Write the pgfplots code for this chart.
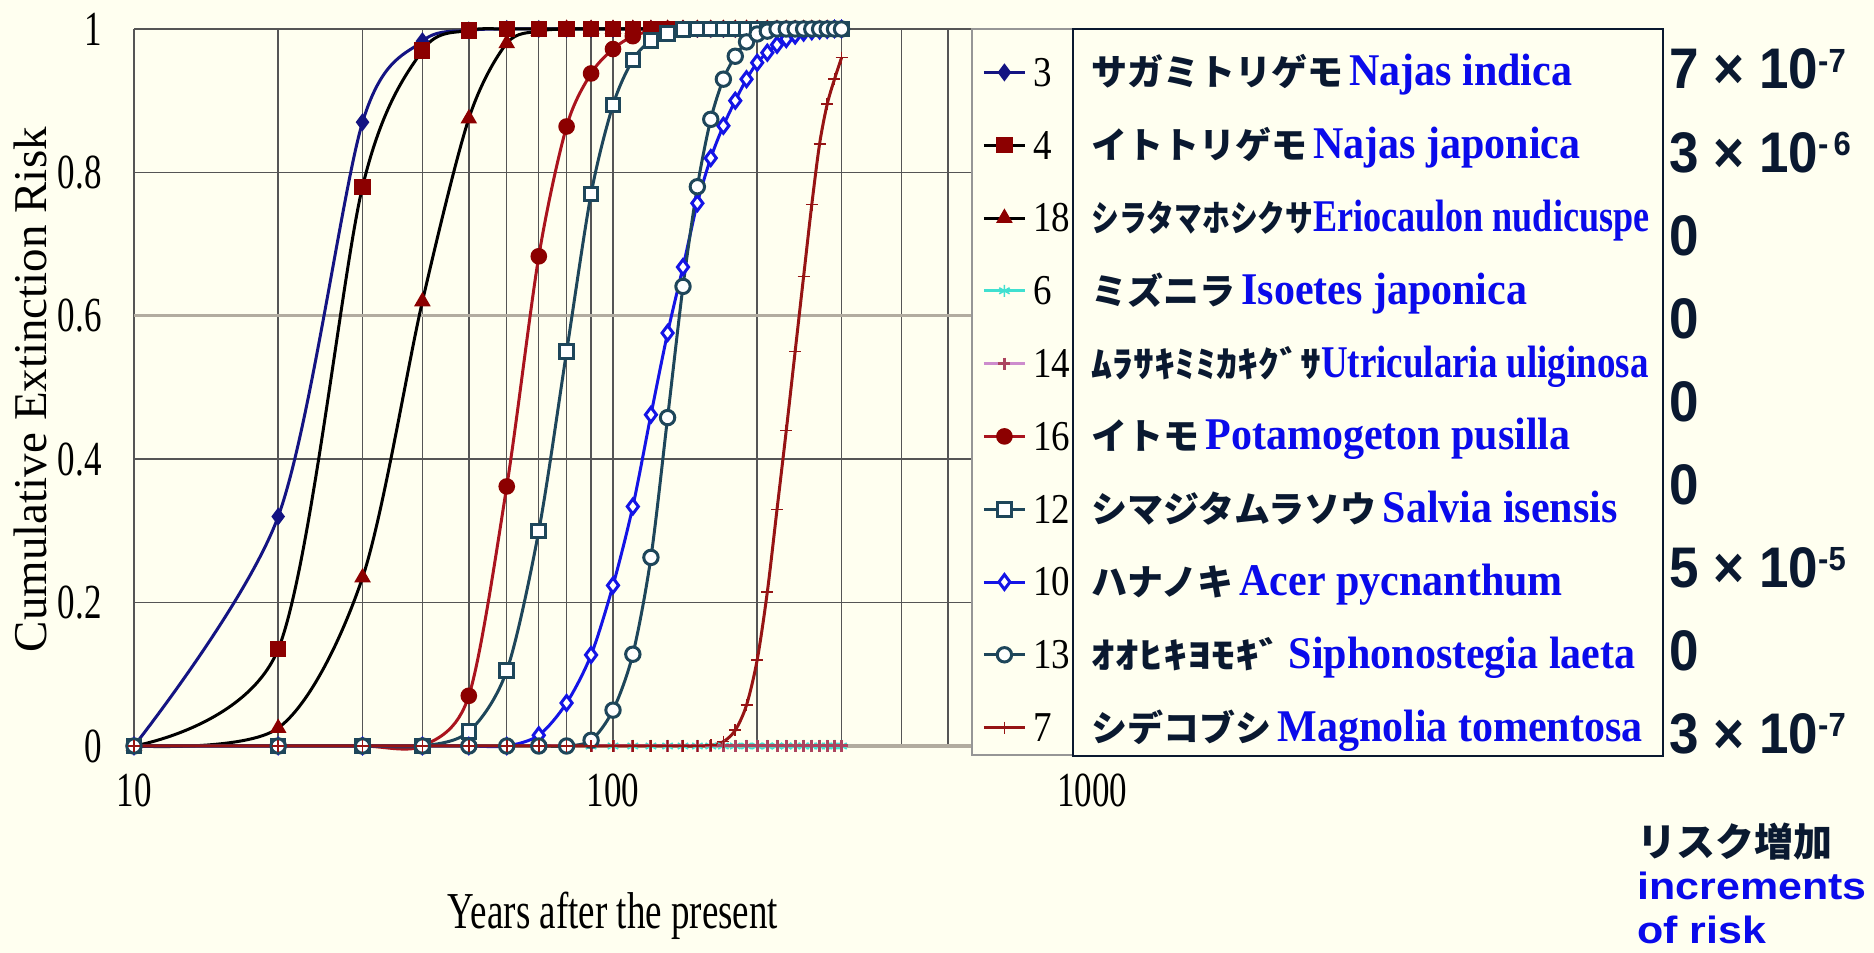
\documentclass[border=0pt]{standalone}
\usepackage{fontspec}
\setmainfont{Liberation Serif}
\newfontfamily\arial{Liberation Sans}
\newfontfamily\jp{Noto Sans CJK JP}
\usepackage{graphicx}
\usepackage{pgfplots}
\usepackage{pgfplotstable}
\pgfplotsset{compat=1.18}

\definecolor{bg}{RGB}{255,255,240}
\definecolor{navy}{RGB}{10,25,48}
\definecolor{tblue}{RGB}{10,10,235}
\definecolor{gridc}{RGB}{85,85,85}
\definecolor{thickgray}{RGB}{178,172,160}
\definecolor{leggray}{RGB}{150,150,150}
\definecolor{cnavy}{RGB}{20,20,130}
\definecolor{cdred}{RGB}{140,0,0}
\definecolor{cred}{RGB}{170,20,30}
\definecolor{cteal}{RGB}{30,70,90}
\definecolor{cblue}{RGB}{20,20,230}
\definecolor{cmag}{RGB}{150,20,20}
\definecolor{ccyan}{RGB}{64,224,208}
\definecolor{cpink}{RGB}{205,140,205}

\newcommand\TL[1]{\scalebox{1}[1.4]{#1}}
\newcommand\LT[1]{\scalebox{1}[1.15]{#1}}
\newcommand\JP[1]{{\jp\bfseries\fontsize{18}{20}\selectfont\color{navy}#1}}
\newcommand\BL[1]{{\bfseries\fontsize{21}{22}\selectfont\color{tblue}\scalebox{1}[1.08]{#1}}}
\newcommand\RV[2]{{\arial\bfseries\fontsize{26.5}{28}\selectfont\color{navy}\scalebox{1}[1.08]{#1\ifx&#2&\else\ \texttimes\ 10\raisebox{7.8pt}{\fontsize{15.5}{16}\selectfont #2}\fi}}}

\pgfplotstableread{
x    s3    s4    s18   s6 s14 s16   s12   s10   s13   s7
10   0     0     0     0  0   0     0     0     0     0
20   0.32  0.135 0.025 0  0   0     0     0     0     0
30   0.87  0.78  0.235 0  0   0     0     0     0     0
40   0.983 0.97  0.62  0  0   0     0     0     0     0
50   0.998 0.998 0.875 0  0   0.07  0.02  0     0     0
60   1     1     0.98  0  0   0.362 0.105 0     0     0
70   1     1     0.997 0  0   0.683 0.30  0.015 0     0
80   1     1     1     0  0   0.864 0.55  0.06  0     0
90   1     1     1     0  0   0.938 0.77  0.127 0.008 0
100  1     1     1     0  0   0.972 0.894 0.224 0.05  0
110  1     1     1     0  0   0.99  0.957 0.334 0.128 0
120  1     1     1     0  0   0.997 0.984 0.462 0.263 0
130  1     1     1     0  0   1     0.994 0.576 0.458 0
140  1     1     1     0  0   1     0.999 0.668 0.641 0
150  1     1     1     0  0   1     1     0.757 0.78  0
160  1     1     1     0  0   1     1     0.82  0.874 0.001
170  1     1     1     0  0   1     1     0.865 0.93  0.006
180  1     1     1     0  0   1     1     0.9   0.962 0.022
190  1     1     1     0  0   1     1     0.93  0.982 0.057
200  1     1     1     0  0   1     1     0.953 0.993 0.12
210  1     1     1     0  0   1     1     0.967 0.997 0.215
220  1     1     1     0  0   1     1     0.978 1     0.33
230  1     1     1     0  0   1     1     0.986 1     0.44
240  1     1     1     0  0   1     1     0.991 1     0.55
250  1     1     1     0  0   1     1     0.995 1     0.655
260  1     1     1     0  0   1     1     0.997 1     0.755
270  1     1     1     0  0   1     1     0.998 1     0.84
280  1     1     1     0  0   1     1     0.999 1     0.895
290  1     1     1     0  0   1     1     1     1     0.93
300  1     1     1     0  0   1     1     1     1     0.96
}\risk

\begin{document}
\begin{tikzpicture}
\fill[bg] (0,0) rectangle (937pt,476.5pt);
\begin{axis}[
  at={(67pt,103.5pt)}, anchor=south west, scale only axis,
  width=479pt, height=358.5pt,
  xmode=log, xmin=10, xmax=1000, ymin=0, ymax=1,
  xtick={10,100,1000}, xticklabels={\TL{10},\TL{100},\TL{1000}},
  minor xtick={20,30,40,50,60,70,80,90,200,300,400,500,600,700,800,900},
  ytick={0,0.2,0.4,0.6,0.8,1},
  yticklabels={\TL{0},\TL{0.2},\TL{0.4},\TL{0.6},\TL{0.8},\TL{1}},
  grid=both,
  major grid style={draw=gridc, line width=0.7pt},
  minor grid style={draw=gridc, line width=0.7pt},
  major tick length=0pt, minor tick length=0pt,
  axis line style={draw=none},
  tick label style={font=\fontsize{17.5}{18}\selectfont, inner sep=0pt},
  xticklabel style={anchor=north, yshift=-14pt},
  yticklabel style={anchor=east, xshift=-16pt},
  xlabel={\scalebox{1}[1.4]{Years after the present}},
  xlabel style={font=\fontsize{18.5}{20}\selectfont, at={(axis description cs:0.5,0)}, anchor=north, yshift=-73pt, inner sep=0pt},
  ylabel={Cumulative Extinction Risk},
  ylabel style={font=\fontsize{23.5}{24}\selectfont, at={(axis description cs:-0.1086,0.497)}, anchor=center, inner sep=0pt},
  clip=false,
  every axis plot/.append style={line width=1.5pt, smooth, mark options={line width=0.8pt}},
  legend style={draw=none, fill=none, at={(axis description cs:0.8852,1)}, anchor=north west,
    inner xsep=0pt, inner ysep=2pt, row sep=4.9pt, column sep=3.5pt,
    font=\fontsize{18.5}{20}\selectfont,
    nodes={inner sep=0pt, text height=26.5pt, text depth=5pt, anchor=base west}},
  legend cell align=left,
  legend image code/.code={\draw[mark repeat=2,mark phase=2,#1] plot coordinates {(0pt,7pt) (10.25pt,7pt) (20.5pt,7pt)};},
]
\draw[line width=1.6pt, draw=thickgray] (axis cs:10,0.6) -- (axis cs:1000,0.6);
\draw[line width=1.6pt, draw=thickgray] (axis cs:10,0) -- (axis cs:1000,0);
\filldraw[fill=bg, draw=leggray, line width=0.8pt] (axis description cs:0.8747,-0.0126) rectangle (axis description cs:0.99,1.0);

\addplot[color=cnavy, mark=diamond*, mark size=3.3pt, mark options={fill=cnavy}] table[x=x,y=s3] {\risk};
\addplot[color=black, mark=square*, mark size=3.3pt, mark options={fill=cdred, draw=cdred}] table[x=x,y=s4] {\risk};
\addplot[color=black, mark=triangle*, mark size=3.3pt, mark options={fill=cdred, draw=cdred}] table[x=x,y=s18] {\risk};
\addplot[color=ccyan, mark=asterisk, mark size=3pt] table[x=x,y=s6] {\risk};
\addplot[color=cpink, mark=+, mark size=3pt, mark options={draw=cmag!60!cpink}] table[x=x,y=s14] {\risk};
\addplot[color=cred, mark=*, mark size=3.4pt, mark options={fill=cdred, draw=cdred}] table[x=x,y=s16] {\risk};
\addplot[color=cteal, mark=square*, mark size=3.4pt, mark options={fill=white, draw=cteal}] table[x=x,y=s12] {\risk};
\addplot[color=cblue, mark=diamond*, mark size=3.7pt, mark options={fill=white, draw=cblue}] table[x=x,y=s10] {\risk};
\addplot[color=cteal, mark=*, mark size=3.6pt, mark options={fill=white, draw=cteal}] table[x=x,y=s13] {\risk};
\addplot[color=cmag, mark=+, mark size=3pt] table[x=x,y=s7] {\risk};
\legend{\LT{3},\LT{4},\LT{18},\LT{6},\LT{14},\LT{16},\LT{12},\LT{10},\LT{13},\LT{7}}
\end{axis}

\begin{scope}[x=0.5pt, y=-0.5pt, shift={(0pt,476.5pt)}]
\filldraw[fill=bg, draw=navy, line width=1.2pt] (1073,29) rectangle (1663,756);
\node[anchor=base west, inner sep=0pt] at (1091,86.0)  {\JP{サガミトリゲモ}\hspace{3pt}\BL{Najas indica}};
\node[anchor=base west, inner sep=0pt] at (1091,158.8) {\JP{イトトリゲモ}\hspace{3pt}\BL{Najas japonica}};
\node[anchor=base west, inner sep=0pt] at (1091,231.6) {\JP{\scalebox{0.77}[1]{シラタマホシクサ}}\BL{\scalebox{0.86}[1]{Eriocaulon nudicuspe}}};
\node[anchor=base west, inner sep=0pt] at (1091,304.4) {\JP{ミズニラ}\hspace{3pt}\BL{Isoetes japonica}};
\node[anchor=base west, inner sep=0pt] at (1091,377.2) {\JP{\scalebox{1.16}[1]{ﾑﾗｻｷﾐﾐｶｷｸﾞｻ}}\BL{\scalebox{0.88}[1]{Utricularia uliginosa}}};
\node[anchor=base west, inner sep=0pt] at (1091,450.0) {\JP{イトモ}\hspace{3pt}\BL{Potamogeton pusilla}};
\node[anchor=base west, inner sep=0pt] at (1091,522.8) {\JP{シマジタムラソウ}\hspace{3pt}\BL{Salvia isensis}};
\node[anchor=base west, inner sep=0pt] at (1091,595.6) {\JP{ハナノキ}\hspace{3pt}\BL{Acer pycnanthum}};
\node[anchor=base west, inner sep=0pt] at (1091,668.4) {\JP{\scalebox{1.33}[1]{ｵｵﾋｷﾖﾓｷﾞ}}\hspace{3pt}\BL{Siphonostegia laeta}};
\node[anchor=base west, inner sep=0pt] at (1091,741.2) {\JP{シデコブシ}\hspace{3pt}\BL{Magnolia tomentosa}};

\node[anchor=base west, inner sep=0pt] at (1669,89)    {\RV{7}{-7}};
\node[anchor=base west, inner sep=0pt] at (1669,172.1) {\RV{3}{-\,6}};
\node[anchor=base west, inner sep=0pt] at (1669,255.2) {\RV{0}{}};
\node[anchor=base west, inner sep=0pt] at (1669,338.3) {\RV{0}{}};
\node[anchor=base west, inner sep=0pt] at (1669,421.4) {\RV{0}{}};
\node[anchor=base west, inner sep=0pt] at (1669,504.5) {\RV{0}{}};
\node[anchor=base west, inner sep=0pt] at (1669,587.6) {\RV{5}{-5}};
\node[anchor=base west, inner sep=0pt] at (1669,670.7) {\RV{0}{}};
\node[anchor=base west, inner sep=0pt] at (1669,753.8) {\RV{3}{-7}};

\node[anchor=base west, inner sep=0pt] at (1637,857) {{\jp\bfseries\fontsize{19.5}{21}\selectfont\color{navy}リスク増加}};
\node[anchor=base west, inner sep=0pt] at (1637,900) {{\arial\bfseries\fontsize{19}{20}\selectfont\color{tblue}\scalebox{1.13}[1]{increments}}};
\node[anchor=base west, inner sep=0pt] at (1637,943) {{\arial\bfseries\fontsize{19}{20}\selectfont\color{tblue}\scalebox{1.13}[1]{of risk}}};
\end{scope}
\pgfresetboundingbox
\path (0,0) rectangle (937pt,476.5pt);
\end{tikzpicture}
\end{document}
